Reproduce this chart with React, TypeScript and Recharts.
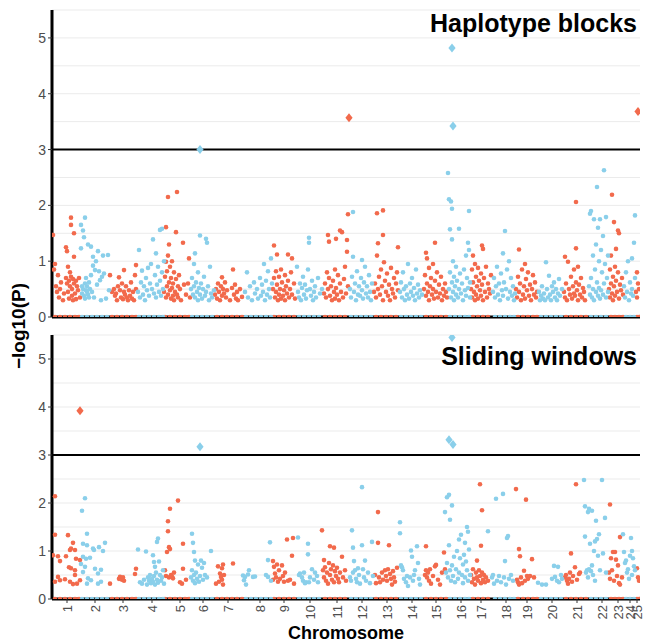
import React from 'react';
import { ScatterChart, Scatter, XAxis, YAxis, ReferenceLine } from 'recharts';

// x = cumulative genome position (arbitrary units), y = -log10(P)
const chromLabels = ['1','2','3','4','5','6','7','8','9','10','11','12','13','14','15','16','17','18','19','20','21','22','23','24','25'];
const chromTicks = [15,43,71,100,128,151,176,208,232,258,285,310,335,360,384,409,429,454,475,500,525,550,566,578,585];
const yTicks = [0, 1, 2, 3, 4, 5];
const gridLevels = [0.5, 1, 1.5, 2, 2.5, 3.5, 4, 4.5, 5, 5.5];
const threshold = 3;

// values at -log10(P) = 0, drawn along the axis
const zeroOdd = [3,8,13,18,23,27,60,65,70,75,80,84,113,118,123,128,133,137,165,170,175,180,185,190,222,227,232,237,242,273,278,283,288,293,324,329,334,339,344,374,379,384,389,394,421,426,431,436,466,471,476,481,485,514,519,524,529,534,559,563,567,571,585,587];
const zeroEven = [30,35,40,45,50,55,87,92,97,102,107,111,140,145,150,155,160,194,199,204,209,214,219,247,252,257,262,267,299,304,309,314,319,349,354,359,364,369,398,403,408,413,417,443,448,453,458,462,489,494,499,504,509,539,544,549,554,574,578,582];

// Haplotype blocks, odd chromosomes
const hapOdd = [
  [1,1.47],[2,0.85],[3,0.95],[4,0.55],[5,0.45],[6,0.75],[7,0.35],[8,0.5],[9,0.62],[11,0.3],[12,0.42],[14,1.25],[14,0.7],[15,1.18],[15,0.6],[16,0.9],[16,0.45],[17,0.65],[17,0.33],[18,0.55],[18,0.8],[19,1.78],[19,1.65],[19,0.72],[20,0.5],[20,0.38],[21,0.68],[21,0.3],[22,1.5],[22,1.08],[22,0.6],[23,0.42],[24,0.65],[24,0.32],[25,0.55],[26,0.48],[27,0.7],[28,0.35],
  [58,0.75],[60,0.45],[62,0.5],[63,0.38],[64,0.42],[65,0.3],[66,0.55],[67,0.71],[68,0.48],[69,0.35],[70,0.6],[71,0.32],[72,0.84],[72,0.45],[73,0.4],[74,0.55],[75,0.35],[76,0.3],[77,0.48],[78,0.38],[79,0.62],[80,0.33],[81,0.45],[82,0.3],[83,0.75],[84,0.93],[84,0.5],
  [112,0.45],[113,0.72],[114,1.61],[114,0.99],[114,0.35],[115,0.55],[115,0.82],[116,2.15],[116,1.1],[116,0.4],[117,1.3],[117,0.62],[118,0.48],[118,0.9],[119,0.33],[119,0.7],[120,0.52],[120,1.0],[121,0.38],[121,0.6],[122,0.8],[122,0.3],[123,0.45],[124,1.52],[124,0.68],[125,2.24],[125,0.4],[126,0.55],[126,0.35],[127,0.75],[128,0.5],[129,0.3],[131,1.33],[132,0.58],[134,0.4],[136,0.6],[137,1.05],[138,0.35],
  [163,0.4],[164,0.5],[165,0.33],[166,0.6],[167,0.45],[168,0.3],[169,0.55],[170,0.71],[170,0.38],[171,0.5],[172,0.42],[173,0.62],[174,0.35],[175,0.48],[178,0.3],[180,0.52],[181,0.85],[182,0.4],[183,0.58],[184,0.33],[185,0.45],[186,0.3],[188,0.5],[190,0.36],
  [221,0.5],[222,1.28],[222,0.7],[223,0.35],[224,0.82],[224,0.45],[225,1.12],[225,0.58],[226,0.3],[227,0.72],[227,0.4],[228,0.5],[229,0.85],[229,0.33],[230,0.62],[231,0.38],[232,0.48],[233,0.75],[233,0.3],[234,0.55],[235,0.42],[236,1.12],[236,0.65],[237,0.35],[238,0.5],[239,0.8],[240,1.05],[240,0.4],[242,0.6],[243,0.33],
  [272,0.42],[273,0.6],[274,0.35],[275,0.8],[276,1.47],[276,0.5],[277,1.35],[277,0.7],[278,0.38],[279,0.55],[280,0.3],[281,0.65],[282,0.45],[283,0.85],[283,0.33],[284,1.4],[284,0.52],[285,0.4],[286,0.75],[287,0.3],[288,1.55],[288,0.6],[289,0.45],[290,1.52],[291,0.35],[292,0.68],[293,0.9],[294,0.42],[295,1.38],[295,1.17],[296,1.84],[296,0.55],
  [322,0.45],[323,0.6],[324,0.35],[325,1.86],[325,1.1],[326,1.32],[326,0.5],[327,0.72],[328,0.4],[329,0.85],[330,0.55],[331,1.91],[331,1.47],[331,0.3],[332,0.98],[333,0.65],[334,0.45],[335,0.78],[336,0.38],[337,0.58],[338,0.3],[339,0.88],[340,0.5],[341,0.42],[342,0.7],[343,0.35],[344,0.6],[345,0.8],[346,1.25],[346,0.48],
  [372,0.5],[373,0.75],[374,1.15],[374,0.38],[375,1.05],[375,0.6],[376,0.45],[377,0.88],[377,0.3],[378,0.55],[379,0.7],[380,0.4],[381,0.95],[381,0.5],[382,0.33],[383,1.33],[383,0.65],[384,0.45],[385,0.8],[386,0.35],[387,0.58],[388,0.42],[389,0.72],[390,0.3],[391,0.5],[392,0.38],[393,0.6],[394,0.45],[395,0.35],
  [419,0.5],[420,0.85],[420,0.35],[421,1.1],[421,0.62],[422,0.45],[423,0.95],[423,0.3],[424,0.72],[424,0.4],[425,0.55],[426,0.88],[426,0.33],[427,0.65],[428,0.48],[429,0.78],[429,0.38],[430,1.28],[430,0.58],[431,1.22],[431,0.3],[432,0.7],[433,0.45],[434,0.9],[435,0.35],[436,0.6],[437,0.5],[438,0.42],[439,0.75],
  [464,0.5],[465,0.35],[466,0.72],[467,1.21],[467,0.45],[468,0.6],[469,0.3],[470,0.85],[471,0.4],[472,0.55],[473,0.95],[473,0.33],[474,0.68],[475,0.48],[476,0.8],[477,0.38],[478,0.58],[479,0.3],[480,0.5],[481,0.75],[482,0.4],[483,0.62],[484,0.35],[485,0.45],
  [512,0.45],[513,1.08],[513,0.35],[514,0.6],[515,0.3],[516,0.99],[517,0.5],[518,0.4],[519,0.72],[520,0.33],[521,0.55],[522,0.85],[522,0.42],[523,0.38],[524,2.06],[524,1.23],[524,0.62],[525,0.48],[526,0.9],[526,0.3],[527,0.58],[528,0.4],[529,0.7],[530,0.35],[531,0.52],[532,0.45],[533,0.3],
  [557,0.5],[558,0.85],[558,0.35],[559,1.1],[559,0.6],[560,2.19],[560,0.42],[561,0.72],[561,0.3],[562,1.7],[562,0.55],[563,0.9],[563,0.38],[564,1.22],[564,0.65],[565,0.45],[566,1.55],[566,0.8],[567,1.5],[567,0.33],[568,0.58],[569,0.48],[570,0.7],[571,0.4],
  [584,0.45],[585,0.8],[585,0.35],[586,0.6],[587,0.5],
];

// Haplotype blocks, even chromosomes
const hapEven = [
  [29,1.65],[29,1.23],[30,0.55],[30,0.42],[31,1.55],[31,0.5],[32,1.43],[32,0.38],[33,1.78],[33,0.6],[33,0.33],[34,0.48],[34,0.7],[35,0.45],[35,0.55],[36,1.3],[36,0.4],[37,0.62],[37,0.35],[38,0.5],[39,1.26],[39,0.75],[40,0.45],[41,1.08],[41,0.92],[42,0.35],[43,0.84],[44,1.0],[45,0.58],[46,1.18],[47,0.82],[48,0.66],[49,0.3],[50,0.72],[51,1.1],[52,0.78],[54,0.33],[56,1.11],[57,0.48],
  [86,0.45],[87,1.2],[88,0.35],[89,0.62],[90,0.83],[91,0.4],[92,0.55],[93,0.3],[94,0.7],[95,0.48],[96,0.88],[97,0.38],[98,0.6],[99,0.95],[100,0.5],[101,1.39],[102,0.42],[103,0.75],[104,1.14],[104,0.35],[105,0.58],[106,0.9],[107,0.45],[108,1.56],[108,0.65],[109,0.38],[110,1.58],[110,0.8],[111,0.5],[112,1.0],
  [139,0.5],[140,0.7],[141,0.4],[142,0.95],[142,0.55],[143,1.14],[143,0.35],[144,0.62],[145,0.45],[146,0.8],[146,0.3],[147,0.52],[148,1.46],[148,0.4],[149,0.6],[150,0.33],[151,0.5],[152,0.72],[153,0.38],[154,1.4],[154,0.45],[155,1.33],[156,0.55],[157,0.3],[158,0.9],[159,0.42],[160,0.35],[162,0.48],
  [193,0.45],[195,0.8],[196,0.35],[198,0.55],[200,0.3],[202,0.62],[203,0.42],[205,0.5],[206,0.33],[208,0.7],[209,0.38],[210,0.58],[211,0.45],[212,0.95],[213,0.3],[214,0.65],[215,0.4],[216,0.82],[217,0.5],[218,0.35],[219,1.05],[220,0.6],
  [245,0.9],[246,0.45],[247,0.35],[248,0.6],[249,0.3],[250,0.52],[251,0.72],[252,0.4],[253,0.58],[254,0.33],[255,0.48],[256,0.85],[257,1.42],[257,1.33],[258,0.5],[259,0.38],[260,0.65],[261,0.3],[262,0.45],[263,0.55],[264,0.35],[266,0.7],[268,0.42],[270,0.5],
  [298,0.5],[299,0.35],[300,0.72],[301,1.88],[301,1.08],[302,0.45],[303,0.6],[304,0.3],[305,0.82],[306,0.4],[307,0.55],[308,0.38],[309,0.7],[310,1.02],[310,0.48],[311,0.33],[312,0.62],[313,0.9],[314,0.42],[315,0.55],[316,0.35],[317,0.75],[318,0.45],[319,0.3],[320,0.6],
  [348,0.45],[349,0.62],[350,0.35],[351,0.8],[352,0.5],[353,0.3],[354,0.55],[355,0.4],[356,0.95],[357,0.33],[358,0.6],[359,0.45],[360,0.7],[361,0.38],[362,0.52],[363,0.3],[364,0.85],[365,0.42],[366,0.58],[367,0.35],[368,0.48],[370,0.4],
  [396,2.58],[397,2.11],[397,0.5],[398,1.57],[398,0.8],[399,2.07],[399,0.35],[400,1.94],[400,1.39],[400,0.62],[401,1.0],[401,0.45],[402,0.72],[402,0.3],[403,0.55],[404,0.9],[404,0.4],[405,0.65],[406,0.35],[407,1.58],[407,0.5],[408,0.78],[409,0.42],[410,0.6],[411,0.3],[412,0.85],[413,0.48],[414,1.1],[414,0.38],[415,0.7],[416,1.33],[416,0.52],[417,1.9],[417,1.2],[418,0.62],[418,0.35],
  [441,0.45],[442,0.7],[443,0.35],[444,0.55],[445,0.9],[446,0.4],[447,0.6],[448,0.3],[449,0.78],[450,0.48],[451,1.14],[451,0.38],[452,0.62],[453,1.54],[454,0.5],[455,0.85],[456,0.33],[457,1.0],[458,0.45],[459,0.7],[460,0.38],[461,0.55],[462,0.3],[463,0.42],
  [487,0.45],[488,0.3],[489,0.38],[490,0.55],[491,0.33],[492,0.42],[493,0.3],[494,0.98],[495,0.5],[496,0.35],[497,0.74],[498,0.4],[499,0.3],[500,0.55],[501,0.45],[502,0.62],[503,0.35],[504,0.5],[505,0.3],[506,0.42],[507,0.68],[508,0.38],[510,0.5],
  [537,0.55],[538,1.85],[538,0.4],[539,1.9],[539,0.7],[540,0.35],[541,1.1],[541,0.5],[542,1.75],[542,0.3],[543,0.85],[544,1.3],[544,0.45],[545,2.33],[545,0.62],[546,1.6],[546,0.38],[547,1.0],[547,0.52],[548,1.75],[548,0.33],[549,1.2],[549,0.48],[550,0.8],[551,1.45],[551,0.4],[552,2.63],[552,0.6],[553,0.95],[554,1.79],[554,0.35],[555,0.7],[556,1.1],[556,0.45],
  [572,0.55],[573,0.35],[574,0.8],[575,0.45],[576,1.0],[577,0.3],[578,0.62],[579,0.42],[580,1.05],[580,0.5],[581,0.38],[582,1.33],[583,1.82],[583,0.7],
];

const hapPeaksOdd = [[297,3.57],[586,3.68]];
const hapPeaksEven = [[148,3.0],[400,4.82],[401,3.42]];

// Sliding windows, odd chromosomes
const swOdd = [
  [1,0.91],[3,2.14],[3,1.34],[3,0.36],[6,0.89],[6,0.46],[8,0.79],[8,0.39],[13,0.41],[14,0.89],[16,1.33],[17,0.66],[18,1.02],[18,0.36],[19,1.05],[19,0.64],[21,1.17],[21,0.31],[23,1.02],[23,0.6],[23,0.5],[24,0.84],[25,0.32],[28,0.81],[28,0.39],
  [58,0.32],[67,0.42],[68,0.46],[70,0.4],[71,0.45],[72,0.38],[83,0.52],[84,0.63],
  [113,0.6],[114,0.48],[115,0.98],[116,1.62],[116,1.41],[117,1.08],[117,0.45],[118,1.88],[118,1.04],[119,0.5],[120,0.47],[121,0.43],[122,0.55],[126,2.05],[128,0.35],[130,0.32],[131,1.15],[131,0.63],[134,0.4],
  [164,0.32],[166,0.68],[167,0.36],[168,0.53],[169,0.46],[170,0.64],[170,0.4],[171,0.72],[171,0.3],[172,0.5],[181,0.74],
  [221,0.79],[221,0.4],[222,0.67],[223,0.53],[224,0.45],[225,0.72],[226,0.36],[227,0.6],[228,0.42],[230,0.7],[231,0.48],[232,0.36],[233,0.55],[235,1.24],[236,0.38],[238,0.4],[240,0.9],[241,1.27],[242,0.32],
  [270,1.43],[271,0.6],[272,0.81],[272,0.45],[273,0.66],[274,0.38],[275,0.55],[276,0.32],[277,0.75],[278,1.1],[278,0.5],[279,0.62],[280,0.4],[281,0.7],[282,1.07],[282,0.35],[283,0.58],[284,0.48],[285,0.65],[286,0.42],[287,0.35],[288,0.55],[290,0.88],[291,0.45],[293,0.6],[294,0.38],
  [323,0.5],[324,0.33],[326,1.81],[326,1.17],[327,0.45],[328,0.35],[330,0.55],[331,0.4],[333,0.6],[334,0.48],[335,0.38],[336,0.62],[337,1.12],[338,0.52],[339,0.42],[340,0.3],[341,0.58],[342,0.45],[343,0.36],[345,0.65],
  [373,0.5],[374,1.1],[374,0.6],[375,0.45],[376,0.55],[377,0.38],[378,0.62],[379,0.32],[381,0.48],[383,0.68],[384,0.71],[386,0.4],[388,0.3],[390,0.55],[392,0.97],[393,0.62],
  [419,0.5],[420,0.35],[421,0.62],[422,0.42],[423,0.3],[424,0.55],[425,0.8],[425,0.45],[426,0.38],[427,0.6],[428,2.39],[428,0.48],[429,1.11],[429,0.33],[430,1.85],[430,0.55],[431,0.4],[432,0.5],[433,0.35],[434,0.45],[436,0.38],
  [464,2.29],[465,0.4],[466,0.35],[467,1.04],[467,0.3],[468,0.89],[469,0.45],[470,0.33],[472,0.59],[473,0.38],[474,2.07],[475,0.48],[476,0.42],[478,0.48],[480,0.83],[482,0.45],
  [513,0.45],[514,0.5],[515,0.38],[516,0.32],[517,0.42],[518,0.55],[519,0.95],[520,0.36],[521,0.48],[523,0.66],[524,2.39],[525,0.4],[527,0.52],[528,0.55],
  [557,0.55],[558,1.97],[558,0.42],[559,0.85],[560,0.6],[561,0.98],[562,0.38],[563,0.98],[564,0.82],[565,0.48],[566,0.7],[567,0.33],[568,1.29],[568,0.3],[570,0.45],
  [585,0.64],[586,0.45],[587,0.38],
];

// Sliding windows, even chromosomes
const swEven = [
  [29,0.73],[30,1.84],[31,1.15],[31,0.56],[31,0.88],[33,2.1],[33,0.67],[34,0.84],[35,1.36],[35,1.12],[35,0.32],[36,0.43],[38,0.86],[39,0.39],[41,1.05],[42,1.02],[43,0.63],[46,0.53],[46,0.32],[47,1.08],[49,0.61],[49,0.36],[51,1.0],[53,1.17],
  [86,1.03],[88,0.35],[90,0.32],[92,0.4],[94,0.99],[95,0.3],[96,0.45],[97,0.38],[98,0.5],[99,0.33],[100,0.42],[101,0.91],[101,0.36],[102,0.77],[102,0.48],[103,0.67],[103,0.3],[104,0.55],[105,1.19],[105,0.4],[106,1.26],[106,0.34],[107,0.78],[108,0.5],[109,0.38],[110,0.45],[111,0.6],[112,0.32],
  [139,0.45],[140,1.36],[140,0.6],[141,1.17],[141,0.38],[142,0.98],[142,0.5],[143,0.8],[143,0.33],[144,0.55],[145,0.42],[146,0.72],[147,0.36],[148,0.48],[149,0.8],[150,0.65],[151,0.4],[152,0.75],[153,0.5],[155,0.45],[159,1.0],
  [191,0.49],[192,0.39],[193,0.46],[194,0.3],[196,0.51],[197,0.6],[201,0.46],[203,0.47],[214,0.5],[216,0.81],[216,0.46],[218,1.18],[219,0.38],
  [246,1.28],[247,0.5],[248,0.53],[250,0.45],[251,0.38],[252,0.55],[253,0.33],[254,0.35],[256,1.15],[256,0.93],[257,0.35],[258,0.45],[260,0.62],[262,0.4],[263,0.55],[265,0.48],[266,0.35],
  [298,0.45],[299,0.38],[300,1.43],[301,1.07],[301,0.55],[302,0.79],[303,0.6],[304,0.42],[305,0.35],[306,0.64],[307,0.5],[308,0.32],[310,2.33],[310,1.12],[311,0.62],[312,0.45],[313,0.8],[314,0.38],[316,0.55],[318,0.33],[320,1.19],[321,0.48],
  [348,1.6],[348,1.37],[349,0.7],[350,0.66],[351,0.6],[352,0.42],[354,0.35],[355,0.48],[356,0.27],[358,0.45],[359,1.01],[360,0.88],[361,0.38],[362,0.5],[363,0.6],[365,1.1],[366,0.75],[367,0.42],[368,0.3],
  [393,1.81],[394,0.55],[395,2.12],[395,0.75],[396,0.45],[397,2.17],[397,1.12],[398,1.65],[398,0.6],[399,0.38],[400,1.95],[400,0.7],[401,0.48],[402,0.88],[403,0.35],[404,0.62],[405,1.0],[406,0.42],[407,1.24],[407,0.55],[408,0.85],[409,1.34],[410,0.5],[411,0.72],[411,0.33],[412,0.92],[413,1.17],[413,0.45],[414,0.78],[415,1.5],[415,0.6],[416,1.4],[416,0.38],[417,1.03],[418,0.5],
  [436,1.41],[440,0.45],[441,0.5],[442,0.32],[444,2.09],[445,0.38],[447,0.48],[449,0.35],[451,2.19],[452,0.45],[453,0.79],[454,0.3],[455,1.27],[456,1.31],[457,0.42],[459,0.5],[461,0.38],
  [486,0.34],[490,0.3],[494,0.3],[500,0.42],[502,0.69],[503,0.46],[505,0.38],[506,0.67],[507,0.35],[509,0.5],[510,0.42],
  [532,2.48],[533,1.93],[533,1.3],[534,0.55],[535,0.6],[536,1.81],[536,0.45],[537,1.88],[537,0.62],[538,1.15],[539,0.58],[540,1.84],[540,0.7],[541,0.5],[542,1.0],[543,1.2],[543,0.38],[544,1.63],[545,1.25],[546,0.9],[547,1.35],[548,0.6],[550,2.48],[551,0.95],[553,1.69],[554,0.55],
  [571,1.35],[572,0.98],[573,0.75],[574,0.8],[575,0.55],[576,0.62],[577,0.42],[578,0.9],[579,1.27],[580,1.0],[580,0.5],[581,0.85],[582,0.68],[583,0.6],
];

const swPeaksOdd = [[28,3.92]];
const swPeaksEven = [[148,3.17],[397,3.32],[400,5.45],[401,3.22]];

const RED = '#F26A4C';
const BLUE = '#8ACFEA';
const FONT = '"Liberation Sans", Arial, sans-serif';

const pts = (a: number[][]) => a.map(([x, y]) => ({ x, y }));
const zeros = (a: number[]) => a.map((x) => ({ x, y: 0 }));

const dot = (color: string) => (p: any) => (
  <circle cx={p.cx} cy={p.cy} r={2.3} fill={color} />
);
const diamond = (color: string) => (p: any) => (
  <path
    d={`M${p.cx},${p.cy - 4.5}L${p.cx + 3.6},${p.cy}L${p.cx},${p.cy + 4.5}L${p.cx - 3.6},${p.cy}Z`}
    fill={color}
  />
);

const ChromTick = (props: any) => {
  const { x, y, payload } = props;
  const i = chromTicks.indexOf(payload.value);
  return (
    <text
      x={x}
      y={y}
      transform={`rotate(-90, ${x}, ${y})`}
      textAnchor="end"
      dominantBaseline="central"
      fontSize={13}
      fontFamily={FONT}
      fill="#4d4d4d"
    >
      {chromLabels[i]}
    </text>
  );
};

type PanelProps = {
  odd: number[][];
  even: number[][];
  peaksOdd: number[][];
  peaksEven: number[][];
  height: number;
  marginTop: number;
  xHeight: number;
  bottom: boolean;
};

const Panel = ({ odd, even, peaksOdd, peaksEven, height, marginTop, xHeight, bottom }: PanelProps) => (
  <ScatterChart width={646} height={height} margin={{ top: marginTop, right: 6, bottom: 0, left: 0 }}>
    {gridLevels.map((g) => (
      <ReferenceLine key={g} y={g} stroke="#ebebeb" strokeWidth={1} />
    ))}
    <XAxis
      type="number"
      dataKey="x"
      domain={[0, 588]}
      ticks={chromTicks}
      interval={0}
      allowDataOverflow
      height={xHeight}
      axisLine={{ stroke: '#000', strokeWidth: 3 }}
      tickLine={{ stroke: '#333' }}
      tickSize={4}
      tickMargin={2}
      tick={bottom ? <ChromTick /> : false}
      label={bottom ? { value: 'Chromosome', position: 'insideBottom', offset: 5, fill: '#000', fontSize: 18, fontWeight: 'bold', fontFamily: FONT } : undefined}
    />
    <YAxis
      type="number"
      dataKey="y"
      domain={[0, 5.5]}
      ticks={yTicks}
      interval={0}
      allowDataOverflow
      width={52}
      axisLine={{ stroke: '#000', strokeWidth: 3 }}
      tickLine={{ stroke: '#333' }}
      tickSize={4}
      tick={{ fill: '#4d4d4d', fontSize: 14, fontFamily: FONT }}
    />
    <Scatter data={zeros(zeroOdd)} shape={dot(RED)} isAnimationActive={false} />
    <Scatter data={zeros(zeroEven)} shape={dot(BLUE)} isAnimationActive={false} />
    <Scatter data={pts(odd)} shape={dot(RED)} isAnimationActive={false} />
    <Scatter data={pts(even)} shape={dot(BLUE)} isAnimationActive={false} />
    <ReferenceLine y={threshold} stroke="#000" strokeWidth={2} />
    <Scatter data={pts(peaksOdd)} shape={diamond(RED)} isAnimationActive={false} />
    <Scatter data={pts(peaksEven)} shape={diamond(BLUE)} isAnimationActive={false} />
  </ScatterChart>
);

export default function App() {
  return (
    <div style={{ position: 'absolute', left: 0, top: 0, width: 646, height: 644, background: '#fff' }}>
      <div style={{ position: 'absolute', left: 0, top: 0 }}>
        <Panel odd={hapOdd} even={hapEven} peaksOdd={hapPeaksOdd} peaksEven={hapPeaksEven}
          height={330} marginTop={10} xHeight={13} bottom={false} />
      </div>
      <div style={{ position: 'absolute', left: 0, top: 322 }}>
        <Panel odd={swOdd} even={swEven} peaksOdd={swPeaksOdd} peaksEven={swPeaksEven}
          height={322} marginTop={13} xHeight={45} bottom={true} />
      </div>
      <svg width={646} height={644} style={{ position: 'absolute', left: 0, top: 0, pointerEvents: 'none' }}>
        <text x={637} y={32} textAnchor="end" fontSize={25} fontWeight="bold" fontFamily={FONT} fill="#000">
          Haplotype blocks
        </text>
        <text x={637} y={365} textAnchor="end" fontSize={25} fontWeight="bold" fontFamily={FONT} fill="#000">
          Sliding windows
        </text>
        <text x={18} y={326} transform="rotate(-90, 18, 326)" textAnchor="middle" dominantBaseline="central"
          fontSize={19} fontWeight="bold" fontFamily={FONT} fill="#000">
          −log10(P)
        </text>
      </svg>
    </div>
  );
}
